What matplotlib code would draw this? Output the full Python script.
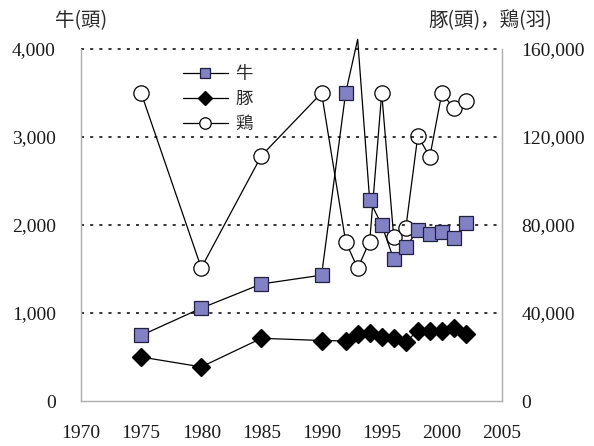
import matplotlib
matplotlib.use("Agg")
import matplotlib.pyplot as plt

# Values
cattle_years = [1975, 1980, 1985, 1990, 1992, 1993, 1994, 1995, 1996, 1997,
                1998, 1999, 2000, 2001, 2002]
cattle = [745, 1055, 1330, 1430, 3500, 4110, 2280, 2000, 1610, 1750,
          1940, 1895, 1920, 1850, 2025]

pig_years = [1975, 1980, 1985, 1990, 1992, 1993, 1994, 1995, 1996, 1997,
             1998, 1999, 2000, 2001, 2002]
pigs = [20000, 15500, 28500, 27500, 27300, 30500, 30700, 29300, 28500, 26800,
        32000, 32000, 32000, 33300, 30500]

chicken_years = [1975, 1980, 1985, 1990, 1992, 1993, 1994, 1995, 1996, 1997,
                 1998, 1999, 2000, 2001, 2002]
chickens = [140000, 60500, 111500, 140000, 72500, 60300, 72500, 140000, 74500, 78500,
            120500, 111000, 140000, 133000, 136300]

left_ticks = [0, 1000, 2000, 3000, 4000]
right_ticks = [0, 40000, 80000, 120000, 160000]
x_ticks = [1970, 1975, 1980, 1985, 1990, 1995, 2000, 2005]

CJK = ["Noto Sans CJK JP", "DejaVu Sans"]
NUM = "Liberation Serif"
SPINE = "#b0b0b0"

fig = plt.figure(figsize=(5.94, 4.46), dpi=100)
ax = fig.add_axes([81 / 594, 1 - 401 / 446, 421 / 594, 352 / 446])
ax2 = ax.twinx()

ax.set_xlim(1970, 2005)
ax.set_ylim(0, 4000)
ax2.set_ylim(0, 160000)

for y in left_ticks[1:]:
    ax.axhline(y, color="black", linestyle=(0, (2, 4)), linewidth=1.1,
               zorder=1, clip_on=False)

# cattle point for 1993 is above the axis: line only, no marker
shown = [i for i, v in enumerate(cattle) if v <= 4000]
ax.plot(cattle_years, cattle, color="black", linewidth=0.9, marker="s",
        markersize=10.5, markerfacecolor="#8181c3", markeredgecolor="#202040",
        markeredgewidth=0.9, markevery=shown, clip_on=False, zorder=4, label="牛")

ax2.plot(pig_years, pigs, color="black", linewidth=0.9, marker="D",
         markersize=9, markerfacecolor="black", markeredgecolor="black",
         zorder=4, label="豚")
ax2.plot(chicken_years, chickens, color="black", linewidth=0.9, marker="o",
         markersize=11, markerfacecolor="white", markeredgecolor="black",
         markeredgewidth=0.9, zorder=3, label="鶏")

ax.set_zorder(ax2.get_zorder() + 1)
ax.patch.set_visible(False)

for a in (ax, ax2):
    a.spines["top"].set_visible(False)
    for s in ("left", "right", "bottom"):
        a.spines[s].set_color(SPINE)
        a.spines[s].set_linewidth(0.9)
    a.tick_params(length=0, labelsize=14, colors="#1a1a1a")

ax.set_xticks(x_ticks)
ax.set_xticklabels([str(x) for x in x_ticks], fontname=NUM)
ax.set_yticks(left_ticks)
ax.set_yticklabels([f"{v:,}" for v in left_ticks], fontname=NUM)
ax2.set_yticks(right_ticks)
ax2.set_yticklabels([f"{v:,}" for v in right_ticks], fontname=NUM)
ax.tick_params(axis="x", pad=17)
ax.tick_params(axis="y", pad=18)
ax2.tick_params(axis="y", pad=14)

fig.text(55 / 594, 1 - 21 / 446, "牛(頭)", family=CJK, fontsize=14,
         color="#2a2a2a", va="center", ha="left")
fig.text(552 / 594, 1 - 21 / 446, "豚(頭)，鶏(羽)", family=CJK, fontsize=14,
         color="#2a2a2a", va="center", ha="right")

h1, l1 = ax.get_legend_handles_labels()
h2, l2 = ax2.get_legend_handles_labels()
leg = ax.legend(h1 + h2, l1 + l2, loc="upper left", bbox_to_anchor=(0.205, 1.0),
                frameon=False, prop={"family": CJK, "size": 12.5},
                handlelength=2.6, labelspacing=0.42, handletextpad=0.4,
                markerscale=0.75)
for t in leg.get_texts():
    t.set_color("#2a2a2a")

fig.savefig("out.png", dpi=100)
